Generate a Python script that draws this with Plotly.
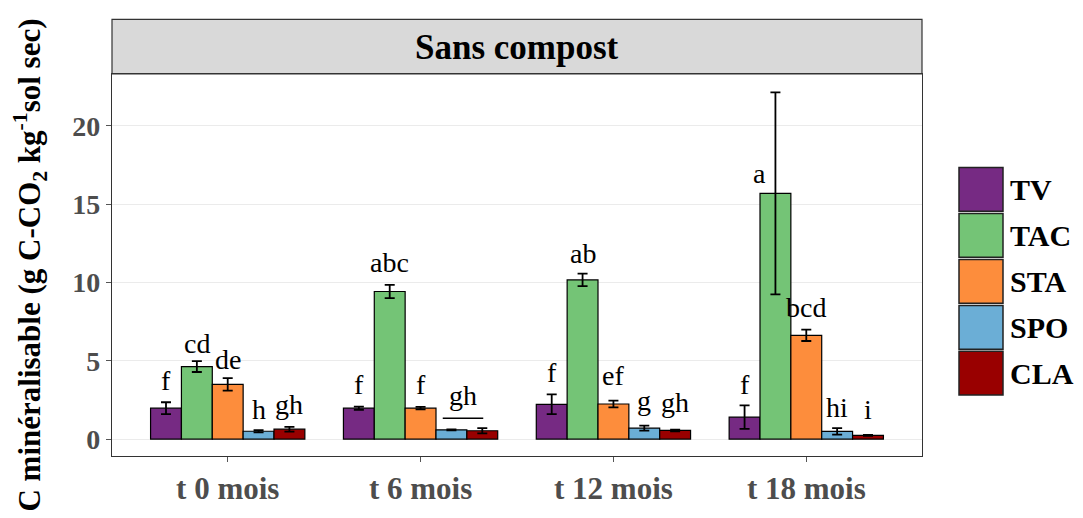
import plotly.graph_objects as go

periods = ["t 0 mois", "t 6 mois", "t 12 mois", "t 18 mois"]
series = ["TV", "TAC", "STA", "SPO", "CLA"]
colors = ["#762A83", "#74C476", "#FD8D3C", "#6BAED6", "#990000"]

mean_TV = [1.97, 1.97, 2.22, 1.40]
mean_TAC = [4.63, 9.42, 10.16, 15.68]
mean_STA = [3.49, 1.97, 2.24, 6.62]
mean_SPO = [0.50, 0.59, 0.70, 0.49]
mean_CLA = [0.63, 0.53, 0.55, 0.23]

se_TV = [0.38, 0.10, 0.63, 0.75]
se_TAC = [0.35, 0.42, 0.40, 6.45]
se_STA = [0.40, 0.08, 0.22, 0.36]
se_SPO = [0.07, 0.03, 0.16, 0.21]
se_CLA = [0.15, 0.17, 0.05, 0.03]

lab_TV = ["f", "f", "f", "f"]
lab_TAC = ["cd", "abc", "ab", "a"]
lab_STA = ["de", "f", "ef", "bcd"]
lab_SPO = ["h", "", "g", "hi"]
lab_CLA = ["gh", "", "gh", "i"]

laby_TV = [3.05, 2.79, 3.56, 2.79]
laby_TAC = [5.46, 10.6, 11.17, 16.25]
laby_STA = [4.44, 2.79, 3.37, 7.75]
laby_SPO = [1.21, None, 1.78, 1.33]
laby_CLA = [1.52, None, 1.65, 1.21]

# shared letter for SPO+CLA at t 6 mois
shared_label = "gh"
shared_label_y = 2.1
shared_line_y = 1.33

means = [mean_TV, mean_TAC, mean_STA, mean_SPO, mean_CLA]
ses = [se_TV, se_TAC, se_STA, se_SPO, se_CLA]
labs = [lab_TV, lab_TAC, lab_STA, lab_SPO, lab_CLA]
labys = [laby_TV, laby_TAC, laby_STA, laby_SPO, laby_CLA]

xpos = list(range(len(periods)))
SERIF = "Liberation Serif"
LBL = 28

fig = go.Figure()
for name, col, m, s in zip(series, colors, means, ses):
    fig.add_trace(go.Bar(
        x=xpos, y=m, name=name, showlegend=False,
        marker=dict(color=col, line=dict(color="black", width=1.2)),
        error_y=dict(type="data", array=s, color="black", thickness=1.8, width=5),
    ))

bw = 0.16
annots = []
for j, (lab, ly) in enumerate(zip(labs, labys)):
    off = (j - 2) * bw
    for i in xpos:
        if lab[i] and ly[i] is not None:
            annots.append(dict(
                x=i + off, y=ly[i], xref="x", yref="y", text=lab[i],
                showarrow=False, yanchor="bottom", yshift=-7,
                xshift=-16 if (j == 1 and i == 3) else 0,
                font=dict(family=SERIF, size=LBL, color="black")))

annots.append(dict(x=1 + 0.22, y=shared_label_y, xref="x", yref="y", text=shared_label,
                   showarrow=False, yanchor="bottom", yshift=-7,
                   font=dict(family=SERIF, size=LBL, color="black")))

# strip title
strip_h = 55 / 384
annots.append(dict(x=0.5, y=1 + strip_h / 2, xref="paper", yref="paper",
                   text="<b>Sans compost</b>", showarrow=False,
                   xanchor="center", yanchor="middle", yshift=-1,
                   font=dict(family=SERIF, size=35, color="black")))

shapes = [
    dict(type="line", xref="x", yref="y", x0=1 + 0.115, x1=1 + 0.325,
         y0=shared_line_y, y1=shared_line_y, line=dict(color="black", width=1.5)),
    dict(type="rect", xref="paper", yref="paper", x0=0, x1=1, y0=1, y1=1 + strip_h,
         fillcolor="#D9D9D9", line=dict(color="#333333", width=1.2), layer="below"),
]

# page has an 8px body offset; compensate
OFF = 8
W, H = 1083 - OFF, 518 - OFF
ml, mt = 112 - OFF, 74 - OFF
pw, ph = 810, 384
mr, mb = W - ml - pw, H - mt - ph

lx0, ly0 = 959 - OFF, 168 - OFF
box_w, box_h, pitch = 44, 44, 46.2


def px2paper_x(px):
    return (px - ml) / pw


def px2paper_y(py):
    return (H - mb - py) / ph


for k, (name, col) in enumerate(zip(series, colors)):
    top = ly0 + k * pitch
    shapes.append(dict(type="rect", xref="paper", yref="paper",
                       x0=px2paper_x(lx0), x1=px2paper_x(lx0 + box_w),
                       y0=px2paper_y(top + box_h), y1=px2paper_y(top),
                       fillcolor=col, line=dict(color="#222222", width=1.5)))
    annots.append(dict(x=px2paper_x(lx0 + box_w + 5), y=px2paper_y(top + box_h / 2),
                       xref="paper", yref="paper", xanchor="left", yanchor="middle",
                       text="<b>" + name + "</b>", showarrow=False,
                       font=dict(family=SERIF, size=30, color="black")))

fig.update_layout(
    width=W, height=H,
    margin=dict(l=ml, r=mr, t=mt, b=mb),
    barmode="group", bargap=0.2, bargroupgap=0,
    plot_bgcolor="white", paper_bgcolor="white",
    annotations=annots, shapes=shapes,
    xaxis=dict(range=[-0.6, 3.6], tickvals=xpos, ticktext=["<b>" + p + "</b>" for p in periods],
               showgrid=False, zeroline=False, showline=True, mirror=True,
               linecolor="#333333", linewidth=1.2, ticks="outside", ticklen=5,
               tickcolor="#555555",
               tickfont=dict(family=SERIF, size=31, color="#4D4D4D")),
    yaxis=dict(range=[-1.08, 23.3], tickvals=[0, 5, 10, 15, 20],
               ticktext=["<b>0</b>", "<b>5</b>", "<b>10</b>", "<b>15</b>", "<b>20</b>"],
               showgrid=True, gridcolor="#EBEBEB", gridwidth=1.2, zeroline=False,
               showline=True, mirror=True, linecolor="#333333", linewidth=1.2,
               ticks="outside", ticklen=5, tickcolor="#555555",
               tickfont=dict(family=SERIF, size=28, color="#4D4D4D"),
               title=dict(text="<b>C minéralisable (g C-CO<sub>2</sub> kg<sup>-1</sup>sol sec)</b>",
                          standoff=26, font=dict(family=SERIF, size=31, color="black"))),
)

fig.write_html("out.html")
